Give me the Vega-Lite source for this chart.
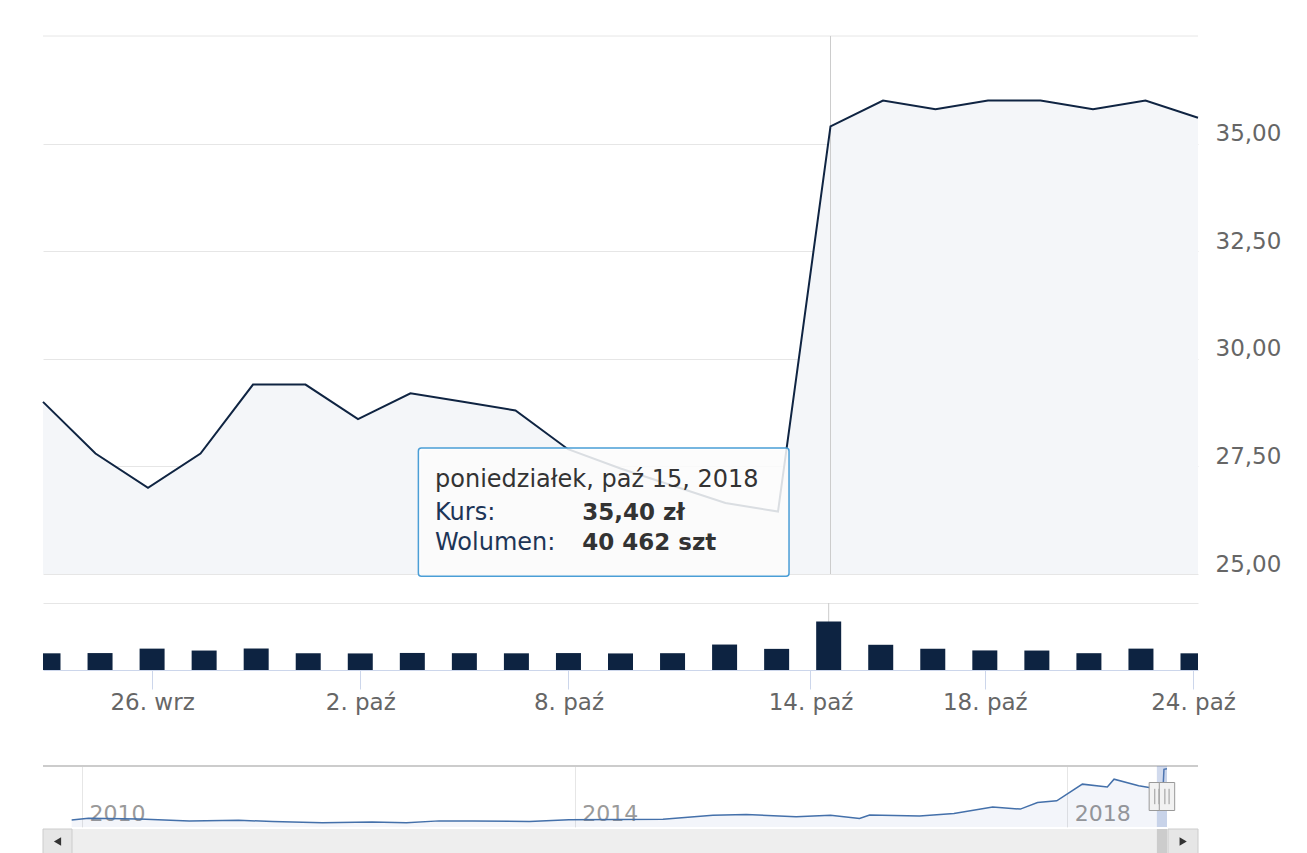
{
  "$schema": "https://vega.github.io/schema/vega-lite/v6.json",
  "padding": {"left": 39, "top": 35, "right": 0, "bottom": 0},
  "autosize": {"type": "pad"},
  "background": "white",
  "bounds": "flush",
  "spacing": 2,
  "config": {
    "font": "DejaVu Sans",
    "view": {"stroke": null},
    "axis": {"labelFont": "DejaVu Sans", "labelColor": "#666666", "gridColor": "#e6e6e6", "domain": false, "ticks": false, "labelFlush": false, "labelOverlap": false}
  },
  "datasets": {
    "notowania": [
      {"data": "2018-09-24", "kurs": 29.00, "wolumen": 13900},
      {"data": "2018-09-25", "kurs": 27.80, "wolumen": 14100},
      {"data": "2018-09-26", "kurs": 27.00, "wolumen": 17800},
      {"data": "2018-09-27", "kurs": 27.80, "wolumen": 16200},
      {"data": "2018-09-28", "kurs": 29.40, "wolumen": 17900},
      {"data": "2018-10-01", "kurs": 29.40, "wolumen": 14000},
      {"data": "2018-10-02", "kurs": 28.60, "wolumen": 13800},
      {"data": "2018-10-03", "kurs": 29.20, "wolumen": 14200},
      {"data": "2018-10-04", "kurs": 29.00, "wolumen": 14000},
      {"data": "2018-10-05", "kurs": 28.80, "wolumen": 13900},
      {"data": "2018-10-08", "kurs": 27.90, "wolumen": 14100},
      {"data": "2018-10-09", "kurs": 27.45, "wolumen": 13800},
      {"data": "2018-10-10", "kurs": 27.05, "wolumen": 14000},
      {"data": "2018-10-11", "kurs": 26.65, "wolumen": 21200},
      {"data": "2018-10-12", "kurs": 26.45, "wolumen": 17600},
      {"data": "2018-10-15", "kurs": 35.40, "wolumen": 40462},
      {"data": "2018-10-16", "kurs": 36.00, "wolumen": 21000},
      {"data": "2018-10-17", "kurs": 35.80, "wolumen": 17700},
      {"data": "2018-10-18", "kurs": 36.00, "wolumen": 16300},
      {"data": "2018-10-19", "kurs": 36.00, "wolumen": 16200},
      {"data": "2018-10-22", "kurs": 35.80, "wolumen": 14000},
      {"data": "2018-10-23", "kurs": 36.00, "wolumen": 17800},
      {"data": "2018-10-24", "kurs": 35.60, "wolumen": 13900}
    ],
    "historia": [
      {"data": "2009-12-01", "kurs": 13.9},
      {"data": "2010-01-20", "kurs": 14.6},
      {"data": "2010-06-20", "kurs": 14.3},
      {"data": "2010-11-15", "kurs": 13.5},
      {"data": "2011-04-10", "kurs": 13.8},
      {"data": "2011-07-20", "kurs": 13.2},
      {"data": "2011-12-15", "kurs": 12.7},
      {"data": "2012-05-10", "kurs": 13.0},
      {"data": "2012-08-20", "kurs": 12.7},
      {"data": "2012-11-25", "kurs": 13.5},
      {"data": "2013-03-05", "kurs": 13.5},
      {"data": "2013-08-20", "kurs": 13.2},
      {"data": "2013-12-15", "kurs": 14.0},
      {"data": "2014-09-20", "kurs": 14.2},
      {"data": "2015-02-15", "kurs": 15.9},
      {"data": "2015-05-25", "kurs": 16.2},
      {"data": "2015-10-20", "kurs": 15.3},
      {"data": "2016-01-30", "kurs": 15.9},
      {"data": "2016-04-25", "kurs": 14.5},
      {"data": "2016-05-25", "kurs": 16.0},
      {"data": "2016-10-20", "kurs": 15.6},
      {"data": "2017-01-30", "kurs": 16.6},
      {"data": "2017-05-25", "kurs": 19.4},
      {"data": "2017-08-15", "kurs": 18.5},
      {"data": "2017-10-05", "kurs": 21.3},
      {"data": "2017-12-01", "kurs": 22.0},
      {"data": "2018-02-15", "kurs": 29.1},
      {"data": "2018-04-30", "kurs": 27.9},
      {"data": "2018-05-20", "kurs": 31.2},
      {"data": "2018-08-01", "kurs": 28.4},
      {"data": "2018-09-10", "kurs": 27.5},
      {"data": "2018-10-12", "kurs": 26.45},
      {"data": "2018-10-15", "kurs": 35.4},
      {"data": "2018-10-24", "kurs": 35.6}
    ]
  },
  "vconcat": [
    {
      "width": 1155,
      "height": 538,
      "data": {"name": "notowania"},
      "transform": [{"window": [{"op": "row_number", "as": "sesja"}], "sort": [{"field": "data"}]}],
      "layer": [
        {
          "mark": {"type": "area", "color": "#f4f6f9"},
          "encoding": {
            "x": {"field": "sesja", "type": "quantitative", "scale": {"domain": [1, 23], "nice": false, "zero": false}, "axis": null},
            "y": {"field": "kurs", "type": "quantitative", "scale": {"domain": [25, 37.5], "nice": false, "zero": false},
                  "axis": {"title": null, "orient": "right", "values": [25, 27.5, 30, 32.5, 35], "grid": true, "labelExpr": "replace(format(datum.value, '.2f'), '.', ',')", "labelAlign": "left", "labelPadding": 17, "labelBaseline": "alphabetic", "labelOffset": -3, "labelFontSize": 23}},
            "y2": {"datum": 25}
          }
        },
        {
          "data": {"values": [{}]},
          "mark": {"type": "rule", "color": "#e6e6e6", "strokeWidth": 1},
          "encoding": {"y": {"datum": 37.5}}
        },
        {
          "data": {"values": [{}]},
          "mark": {"type": "rule", "color": "#cccccc", "strokeWidth": 1},
          "encoding": {"x": {"datum": 16}}
        },
        {
          "mark": {"type": "line", "color": "#0f2442", "strokeWidth": 2},
          "encoding": {
            "x": {"field": "sesja", "type": "quantitative"},
            "y": {"field": "kurs", "type": "quantitative"}
          }
        },
        {
          "data": {"values": [{}]},
          "mark": {"type": "rect", "fill": "#000000", "opacity": 0.08, "cornerRadius": 3, "xOffset": 2, "yOffset": 2},
          "encoding": {"x": {"datum": 8.15}, "x2": {"datum": 15.21}, "y": {"datum": 27.93}, "y2": {"datum": 24.95}}
        },
        {
          "data": {"values": [{}]},
          "mark": {"type": "rect", "fill": "#ffffff", "fillOpacity": 0.85, "stroke": "#4a9ed6", "strokeWidth": 1.5, "cornerRadius": 3},
          "encoding": {"x": {"datum": 8.15}, "x2": {"datum": 15.21}, "y": {"datum": 27.93}, "y2": {"datum": 24.95}}
        },
        {
          "data": {"values": [{}]},
          "mark": {"type": "text", "align": "left", "baseline": "middle", "fontSize": 24, "color": "#333333", "text": "poniedziałek, paź 15, 2018"},
          "encoding": {"x": {"datum": 8.467}, "y": {"datum": 27.19}}
        },
        {
          "data": {"values": [{}]},
          "mark": {"type": "text", "align": "left", "baseline": "middle", "fontSize": 24, "color": "#1d3557", "text": "Kurs:"},
          "encoding": {"x": {"datum": 8.467}, "y": {"datum": 26.42}}
        },
        {
          "data": {"values": [{}]},
          "mark": {"type": "text", "align": "left", "baseline": "middle", "fontSize": 23, "fontWeight": "bold", "color": "#333333", "text": "35,40 zł"},
          "encoding": {"x": {"datum": 11.27}, "y": {"datum": 26.42}}
        },
        {
          "data": {"values": [{}]},
          "mark": {"type": "text", "align": "left", "baseline": "middle", "fontSize": 24, "color": "#1d3557", "text": "Wolumen:"},
          "encoding": {"x": {"datum": 8.467}, "y": {"datum": 25.72}}
        },
        {
          "data": {"values": [{}]},
          "mark": {"type": "text", "align": "left", "baseline": "middle", "fontSize": 23, "fontWeight": "bold", "color": "#333333", "text": "40 462 szt"},
          "encoding": {"x": {"datum": 11.27}, "y": {"datum": 25.72}}
        }
      ]
    },
    {
      "width": 1155,
      "height": 188,
      "data": {"name": "notowania"},
      "transform": [{"window": [{"op": "row_number", "as": "sesja"}], "sort": [{"field": "data"}]}],
      "layer": [
        {
          "data": {"values": [{}]},
          "mark": {"type": "rule", "color": "#cccccc", "strokeWidth": 1},
          "encoding": {"x": {"datum": 16}, "y": {"datum": 55800}, "y2": {"datum": 0}}
        },
        {
          "mark": {"type": "bar", "width": 25, "color": "#0d2341", "clip": true},
          "encoding": {
            "x": {"field": "sesja", "type": "quantitative", "scale": {"domain": [1, 23], "nice": false, "zero": false},
                  "axis": {"title": null, "values": [3, 7, 11, 15.65, 19, 23], "labelExpr": "datum.value < 4 ? '26. wrz' : datum.value < 8 ? '2. paź' : datum.value < 12 ? '8. paź' : datum.value < 17 ? '14. paź' : datum.value < 20 ? '18. paź' : '24. paź'", "offset": -94, "domain": true, "domainColor": "#ccd6eb", "ticks": true, "tickColor": "#ccd6eb", "tickSize": 19, "labelPadding": 2, "labelFontSize": 23, "grid": false}},
            "y": {"field": "wolumen", "type": "quantitative", "scale": {"domain": [0, 55800], "range": [94, 27], "nice": false},
                  "axis": {"title": null, "orient": "right", "values": [55800], "grid": true, "labels": false}}
          }
        }
      ]
    },
    {
      "width": 1155,
      "height": 61,
      "data": {"name": "historia"},
      "layer": [
        {
          "mark": {"type": "area", "color": "#335cad", "opacity": 0.06},
          "encoding": {
            "x": {"field": "data", "type": "temporal", "scale": {"domain": [{"year": 2009, "month": 9, "date": 7}, {"year": 2019, "month": 1, "date": 24}], "nice": false},
                  "axis": {"title": null, "values": [{"year": 2010}, {"year": 2014}, {"year": 2018}], "format": "%Y", "grid": true, "gridColor": "#e6e6e6", "labelAlign": "left", "labelOffset": 7, "labelPadding": -7, "labelBaseline": "alphabetic", "labelColor": "#999999", "labelFontSize": 22, "ticks": false, "tickSize": 0}},
            "y": {"field": "kurs", "type": "quantitative", "scale": {"domain": [10.9, 36.8], "nice": false, "zero": false}, "axis": null},
            "y2": {"datum": 10.9}
          }
        },
        {
          "mark": {"type": "line", "color": "#4470aa", "strokeWidth": 1.5},
          "encoding": {
            "x": {"field": "data", "type": "temporal"},
            "y": {"field": "kurs", "type": "quantitative"}
          }
        },
        {
          "data": {"values": [{}]},
          "mark": {"type": "rule", "color": "#cccccc", "strokeWidth": 2},
          "encoding": {"y": {"datum": 36.8}}
        },
        {
          "data": {"values": [{}]},
          "mark": {"type": "rect", "color": "#6685c2", "opacity": 0.3},
          "encoding": {
            "x": {"datum": {"year": 2018, "month": 9, "date": 24}, "type": "temporal"},
            "x2": {"datum": {"year": 2018, "month": 10, "date": 24}}
          }
        },
        {
          "data": {"values": [{"uchwyt": "2018-09-24"}, {"uchwyt": "2018-10-24"}]},
          "mark": {"type": "point", "filled": true, "fill": "#f2f2f2", "fillOpacity": 1, "stroke": "#999999", "strokeWidth": 1, "opacity": 1, "size": 784, "shape": "M-0.55,-1H0.55V1H-0.55Z M-0.15,-0.55V0.55 M0.15,-0.55V0.55"},
          "encoding": {"x": {"field": "uchwyt", "type": "temporal"}}
        }
      ]
    },
    {
      "width": 1155,
      "height": 25,
      "view": {"fill": "#eeeeee", "stroke": null},
      "data": {"values": [{}]},
      "layer": [
        {
          "mark": {"type": "rect", "color": "#cccccc"},
          "encoding": {
            "x": {"datum": {"year": 2018, "month": 9, "date": 24}, "type": "temporal", "scale": {"domain": [{"year": 2009, "month": 9, "date": 7}, {"year": 2019, "month": 1, "date": 24}], "nice": false}, "axis": null},
            "x2": {"datum": {"year": 2018, "month": 10, "date": 24}}
          }
        },
        {
          "mark": {"type": "rect", "fill": "#e6e6e6", "stroke": "#cccccc", "strokeWidth": 1},
          "encoding": {
            "x": {"datum": {"year": 2009, "month": 9, "date": 7}, "type": "temporal", "axis": null},
            "x2": {"datum": {"year": 2009, "month": 12, "date": 2}}
          }
        },
        {
          "mark": {"type": "rect", "fill": "#e6e6e6", "stroke": "#cccccc", "strokeWidth": 1},
          "encoding": {
            "x": {"datum": {"year": 2018, "month": 10, "date": 27}, "type": "temporal", "axis": null},
            "x2": {"datum": {"year": 2019, "month": 1, "date": 24}}
          }
        },
        {
          "mark": {"type": "point", "shape": "triangle-left", "filled": true, "color": "#333333", "opacity": 1, "size": 70},
          "encoding": {"x": {"datum": {"year": 2009, "month": 10, "date": 20}, "type": "temporal", "axis": null}}
        },
        {
          "mark": {"type": "point", "shape": "triangle-right", "filled": true, "color": "#333333", "opacity": 1, "size": 70},
          "encoding": {"x": {"datum": {"year": 2018, "month": 12, "date": 11}, "type": "temporal", "axis": null}}
        }
      ]
    }
  ]
}
